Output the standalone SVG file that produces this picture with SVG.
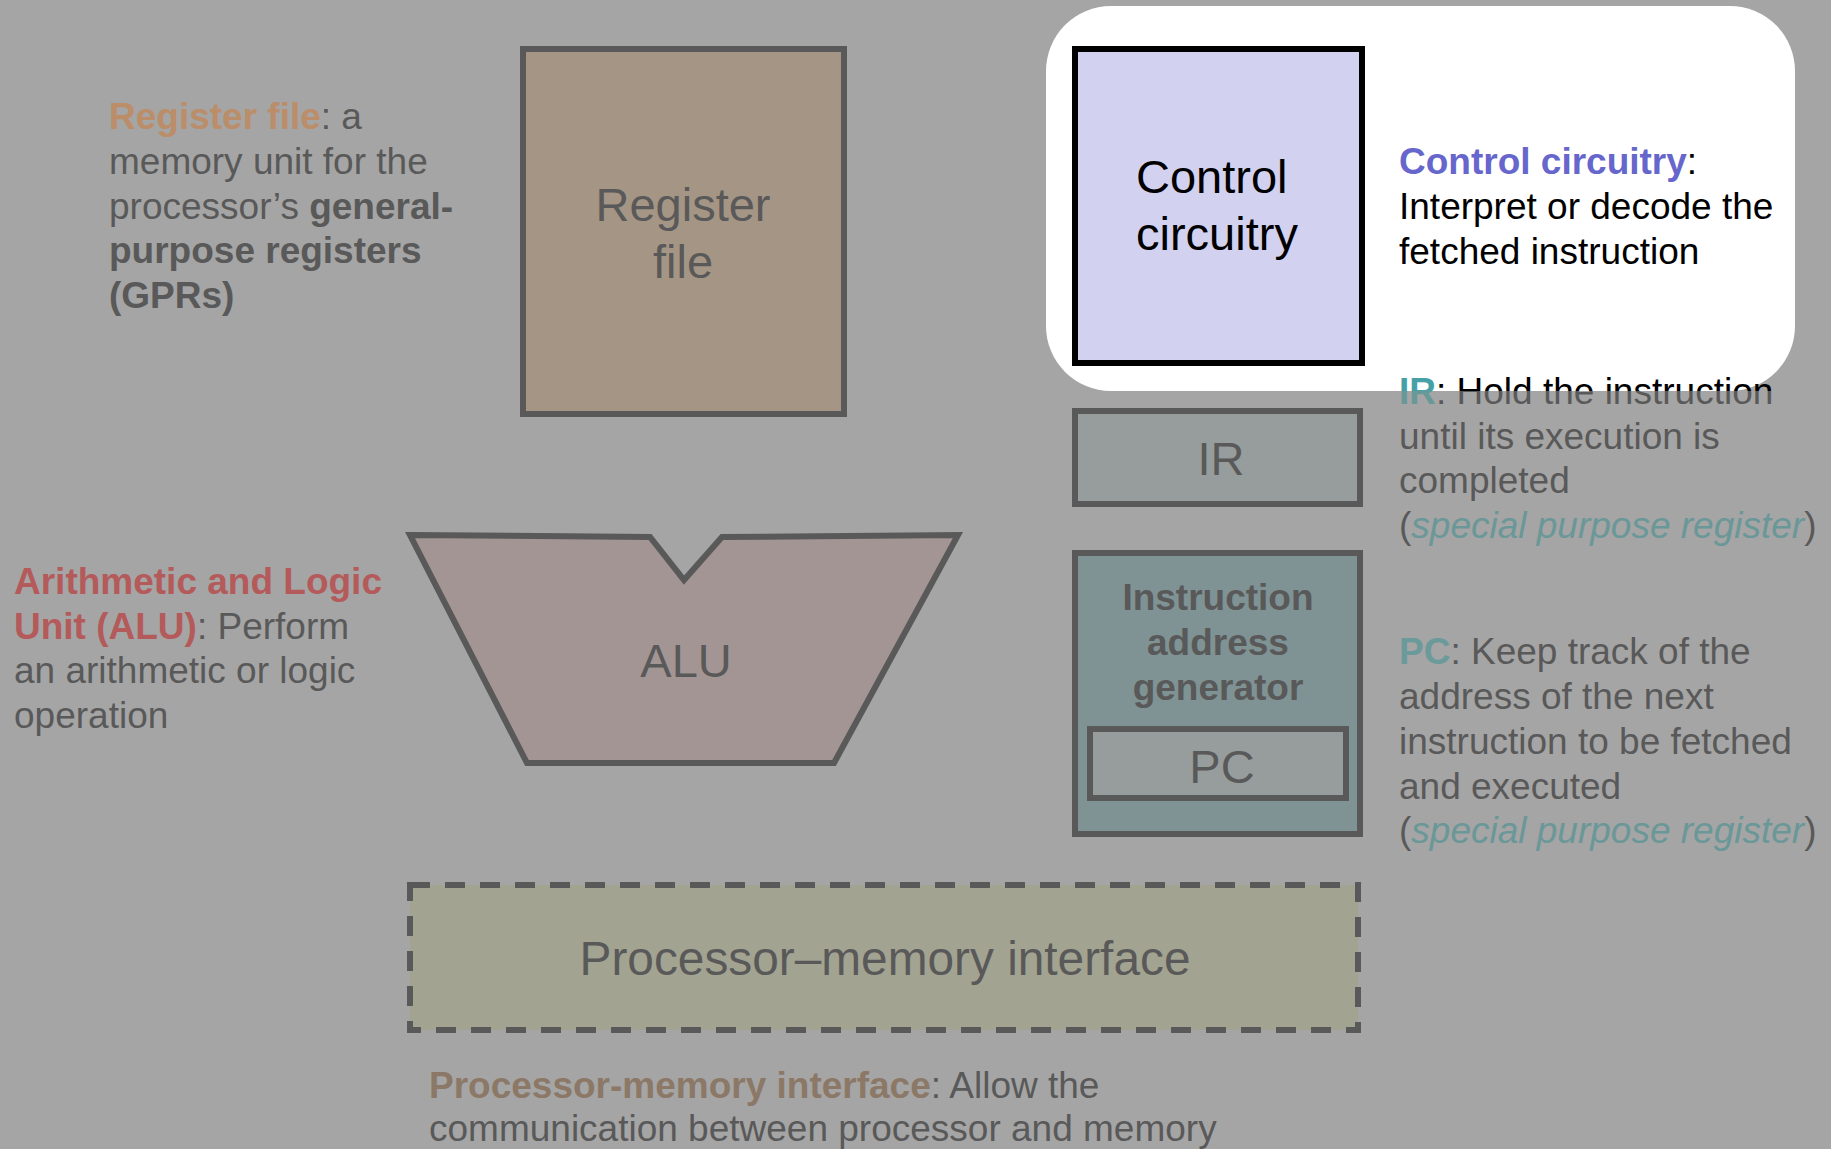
<svg xmlns="http://www.w3.org/2000/svg" width="1831" height="1149" viewBox="0 0 1831 1149">
<style>
text{font-family:"Liberation Sans",Arial,sans-serif}
.box{stroke:#595959;stroke-width:6;stroke-linejoin:miter}
.lbl{font-size:47px;fill:#595959;text-anchor:middle}
.desc{font-size:37px;fill:#595959}
.b{font-weight:bold}
.sp{font-style:italic;fill:#6a9797}
</style>
<defs>
<linearGradient id="gBlk" gradientUnits="userSpaceOnUse" x1="0" y1="371" x2="0" y2="411">
<stop offset="0.5" stop-color="#000"/><stop offset="0.5" stop-color="#595959"/>
</linearGradient>
<linearGradient id="gTeal" gradientUnits="userSpaceOnUse" x1="0" y1="371" x2="0" y2="411">
<stop offset="0.5" stop-color="#46a0a5"/><stop offset="0.5" stop-color="#699898"/>
</linearGradient>
</defs>
<rect x="0" y="0" width="1831" height="1149" fill="#a5a5a5"/>
<rect id="highlight" x="1046" y="6" width="749" height="385" rx="65" ry="65" fill="#ffffff"/>

<g id="register-file">
<rect class="box" x="523" y="49" width="321" height="365" fill="#a59585"/>
<text class="lbl" x="683" y="221">Register</text>
<text class="lbl" x="683" y="278">file</text>
</g>

<g id="control-circuitry">
<rect x="1075" y="49" width="287" height="314" fill="#d2d2f0" stroke="#000" stroke-width="6"/>
<text class="lbl" x="1136" y="193" style="fill:#000;text-anchor:start">Control</text>
<text class="lbl" x="1136" y="250" style="fill:#000;text-anchor:start">circuitry</text>
</g>

<g id="ir">
<rect class="box" x="1075" y="411" width="285" height="93" fill="#979d9d"/>
<text class="lbl" x="1221" y="475">IR</text>
</g>

<g id="instruction-address-generator">
<rect class="box" x="1075" y="553" width="285" height="281" fill="#7f9294"/>
<text class="desc b" x="1218" y="610" text-anchor="middle">Instruction</text>
<text class="desc b" x="1218" y="655" text-anchor="middle">address</text>
<text class="desc b" x="1218" y="700" text-anchor="middle">generator</text>
</g>

<g id="pc">
<rect class="box" x="1090" y="729" width="256" height="69" fill="#979d9d"/>
<text class="lbl" x="1222" y="783">PC</text>
</g>

<g id="alu">
<polygon class="box" points="410,535 650,537 684,580 722,537 958,535 834,763 527,763" fill="#a39594"/>
<text class="lbl" x="686" y="677">ALU</text>
</g>

<g id="processor-memory-interface">
<rect class="box" x="410" y="885" width="948" height="145" fill="#a3a391" stroke-dasharray="20 15"/>
<text class="lbl" x="885" y="975" style="font-size:47.8px">Processor–memory interface</text>
</g>

<g id="connectors"></g>

<g id="annotations">
<text class="desc" x="109" y="129"><tspan class="b" fill="#bb8d69">Register file</tspan>: a</text>
<text class="desc" x="109" y="174">memory unit for the</text>
<text class="desc" x="109" y="219">processor’s <tspan class="b">general-</tspan></text>
<text class="desc b" x="109" y="263">purpose registers</text>
<text class="desc b" x="109" y="308">(GPRs)</text>

<text class="desc" x="14" y="594"><tspan class="b" fill="#b45a5a">Arithmetic and Logic</tspan></text>
<text class="desc" x="14" y="639"><tspan class="b" fill="#b45a5a">Unit (ALU)</tspan>: Perform</text>
<text class="desc" x="14" y="683">an arithmetic or logic</text>
<text class="desc" x="14" y="728">operation</text>

<text class="desc" x="1399" y="174" style="fill:#000"><tspan class="b" style="fill:#6666cc">Control circuitry</tspan>:</text>
<text class="desc" x="1399" y="219" style="fill:#000">Interpret or decode the</text>
<text class="desc" x="1399" y="264" style="fill:#000">fetched instruction</text>

<text class="desc" x="1399" y="404" style="fill:url(#gBlk)"><tspan class="b" style="fill:url(#gTeal)">IR</tspan>: Hold the instruction</text>
<text class="desc" x="1399" y="449">until its execution is</text>
<text class="desc" x="1399" y="493">completed</text>
<text class="desc" x="1399" y="538">(<tspan class="sp">special purpose register</tspan>)</text>

<text class="desc" x="1399" y="664"><tspan class="b" fill="#6a9a9a">PC</tspan>: Keep track of the</text>
<text class="desc" x="1399" y="709">address of the next</text>
<text class="desc" x="1399" y="754">instruction to be fetched</text>
<text class="desc" x="1399" y="799">and executed</text>
<text class="desc" x="1399" y="843">(<tspan class="sp">special purpose register</tspan>)</text>

<text class="desc" x="429" y="1098"><tspan class="b" fill="#8b7866">Processor-memory interface</tspan>: Allow the</text>
<text class="desc" x="429" y="1141">communication between processor and memory</text>
</g>
</svg>
